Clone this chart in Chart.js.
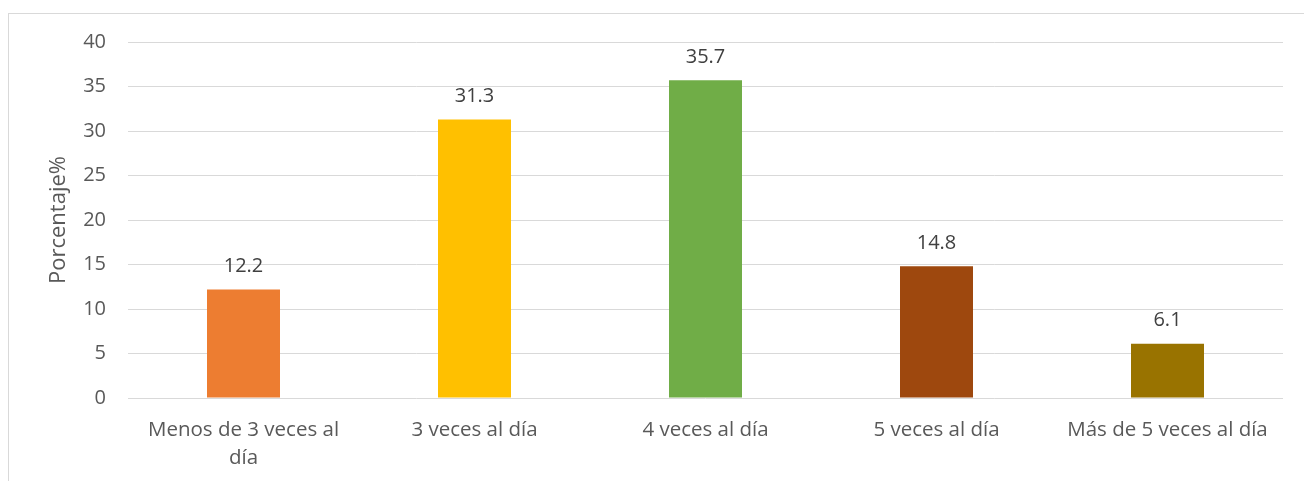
<!DOCTYPE html>
<html>
<head>
<meta charset="utf-8">
<script src="https://cdn.jsdelivr.net/npm/chart.js@4"></script>
<style>
  html, body { margin: 0; padding: 0; background: #fff; overflow: hidden; }
  #marco {
    position: absolute; left: 8px; top: 13px; width: 1400px; height: 600px;
    border-left: 1px solid #d9d9d9; border-top: 1px solid #d9d9d9;
  }
  #lienzo { position: absolute; left: 0; top: 0; width: 1304px; height: 481px; }
</style>
</head>
<body>
<div id="marco"></div>
<div id="lienzo"><canvas id="grafico"></canvas></div>
<script>
// Datos del gráfico
const categorias = [
    ["Menos de 3 veces al", "día"],
    "3 veces al día",
    "4 veces al día",
    "5 veces al día",
    "Más de 5 veces al día"
];
const porcentajes = [12.2, 31.3, 35.7, 14.8, 6.1];
const colores = ["#ED7D31", "#FFC000", "#70AD47", "#9E480E", "#997300"];
const tituloEjeY = "Porcentaje%";

const fuente = "'Open Sans', 'DejaVu Sans', sans-serif";

// Etiquetas de valor encima de cada barra
const etiquetasValor = {
    id: 'etiquetasValor',
    afterDatasetsDraw(chart) {
        const ctx = chart.ctx;
        const meta = chart.getDatasetMeta(0);
        ctx.save();
        ctx.font = "20px " + fuente;
        ctx.fillStyle = "#404040";
        ctx.textAlign = "center";
        ctx.textBaseline = "middle";
        meta.data.forEach((barra, i) => {
            ctx.fillText(porcentajes[i].toFixed(1), barra.x, barra.y - 23);
        });
        ctx.restore();
    }
};

const ctx = document.getElementById('grafico').getContext('2d');
new Chart(ctx, {
    type: 'bar',
    data: {
        labels: categorias,
        datasets: [{
            data: porcentajes,
            backgroundColor: colores,
            borderWidth: 0,
            categoryPercentage: 1,
            barPercentage: 0.316
        }]
    },
    options: {
        responsive: true,
        maintainAspectRatio: false,
        animation: false,
        layout: { padding: { top: 42, right: 21, bottom: 0, left: 0 } },
        plugins: {
            legend: { display: false },
            tooltip: { enabled: false }
        },
        scales: {
            x: {
                grid: { display: false, drawTicks: false },
                border: { display: false },
                ticks: {
                    color: "#595959",
                    font: { family: fuente, size: 20.5, lineHeight: 1.37 },
                    padding: 18,
                    maxRotation: 0,
                    autoSkip: false
                },
                afterFit(escala) { escala.height = 83; }
            },
            y: {
                min: 0,
                max: 40,
                ticks: {
                    stepSize: 5,
                    color: "#595959",
                    font: { family: fuente, size: 20 },
                    padding: 22
                },
                grid: { color: "#d9d9d9", lineWidth: 1, drawTicks: false },
                border: { display: false },
                title: {
                    display: true,
                    text: tituloEjeY,
                    color: "#595959",
                    font: { family: fuente, size: 22 },
                    padding: { top: 46, bottom: 0 }
                },
                afterFit(escala) { escala.width = 128; }
            }
        }
    },
    plugins: [etiquetasValor]
});
</script>
</body>
</html>
